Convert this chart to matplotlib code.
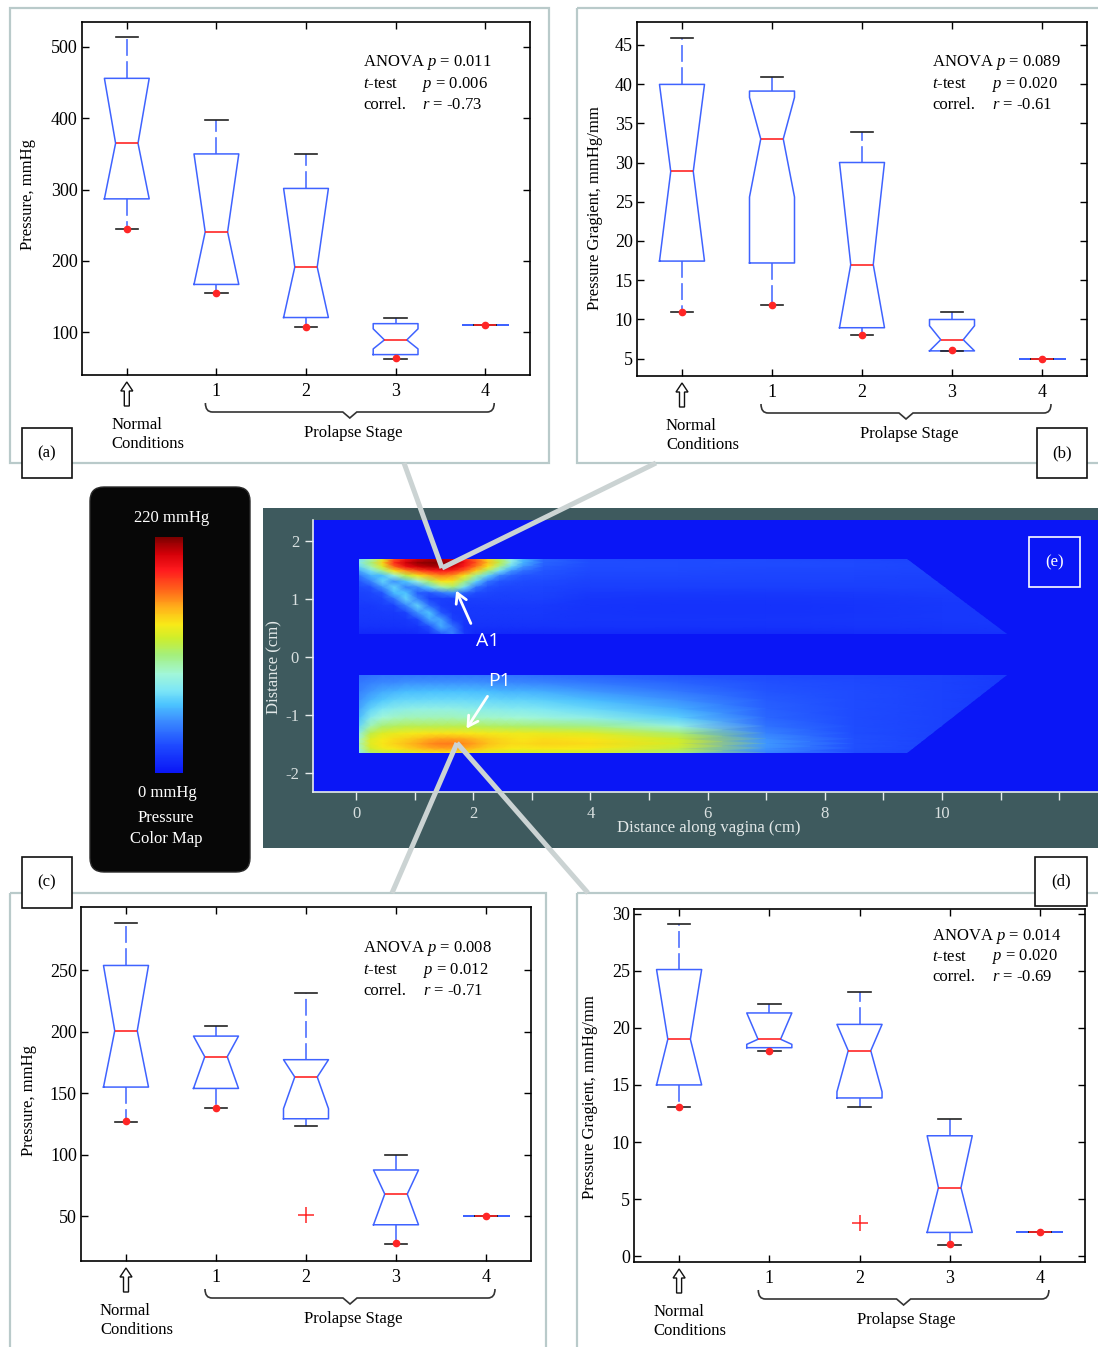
import matplotlib
matplotlib.use('Agg')
import matplotlib.pyplot as plt
import matplotlib.patches as patches
from matplotlib.path import Path
from matplotlib.colors import LinearSegmentedColormap, Normalize
from matplotlib.cm import ScalarMappable
import numpy as np

W, H = 1098, 1347
plt.rcParams['font.family'] = ['Liberation Serif', 'DejaVu Serif']
plt.rcParams['mathtext.fontset'] = 'custom'
plt.rcParams['mathtext.it'] = 'Liberation Serif:italic'
plt.rcParams['mathtext.rm'] = 'Liberation Serif'

# ---------------- data ----------------
groups = ['', '1', '2', '3', '4']
test_names = ['ANOVA', '$t$-test', 'correl.']

# (a) peak pressure, mmHg
a_whislo = [245, 155, 108, 62.5, 110.3]
a_q1 = [287, 167, 120.6, 68.6, 110.3]
a_med = [365, 240.7, 191.4, 89.2, 110.3]
a_q3 = [456, 350, 301.6, 112, 110.3]
a_whishi = [513.6, 397.8, 350, 120, 110.3]
a_cilo = [287, 167, 120.6, 76.6, 110.3]
a_cihi = [456, 350, 301.6, 104.7, 110.3]
a_dots = [245, 155, 108, 63.4, 110.3]
a_fliers = [[], [], [], [], []]
a_tests = ['0.011', '0.006', '-0.73']

# (b) pressure gradient, mmHg/mm
b_whislo = [10.94, 11.9, 8.06, 6.0, 5.0]
b_q1 = [17.44, 17.2, 8.95, 6.0, 5.0]
b_med = [28.86, 33.0, 17.0, 7.42, 5.0]
b_q3 = [39.95, 39.1, 30.0, 10.0, 5.0]
b_whishi = [45.85, 40.9, 33.9, 10.94, 5.0]
b_cilo = [17.44, 25.6, 8.95, 6.0, 5.0]
b_cihi = [39.95, 38.3, 30.0, 9.2, 5.0]
b_dots = [10.94, 11.9, 8.06, 6.06, 5.0]
b_fliers = [[], [], [], [], []]
b_tests = ['0.089', '0.020', '-0.61']

# (c) peak pressure, mmHg
c_whislo = [126.5, 137.7, 123.3, 27.5, 50.0]
c_q1 = [155.0, 153.9, 129.2, 42.9, 50.0]
c_med = [200.9, 179.7, 163.2, 67.9, 50.0]
c_q3 = [254.0, 196.5, 177.3, 87.5, 50.0]
c_whishi = [288.5, 204.7, 231.8, 99.4, 50.0]
c_cilo = [155.0, 153.9, 137.4, 42.9, 50.0]
c_cihi = [254.0, 196.5, 177.3, 87.5, 50.0]
c_dots = [127.0, 137.7, None, 28.0, 50.0]
c_fliers = [[], [], [51.1], [], []]
c_tests = ['0.008', '0.012', '-0.71']

# (d) pressure gradient, mmHg/mm
d_whislo = [13.07, 18.0, 13.07, 1.02, 2.09]
d_q1 = [15.0, 18.26, 13.86, 2.09, 2.09]
d_med = [19.0, 19.0, 18.0, 6.0, 2.09]
d_q3 = [25.1, 21.3, 20.3, 10.55, 2.09]
d_whishi = [29.07, 22.05, 23.1, 12.06, 2.09]
d_cilo = [15.0, 18.55, 14.4, 2.09, 2.09]
d_cihi = [25.1, 21.3, 20.3, 10.55, 2.09]
d_dots = [13.1, 18.0, None, 1.1, 2.1]
d_fliers = [[], [], [2.9], [], []]
d_tests = ['0.014', '0.020', '-0.69']

# (e) pressure map, mmHg (on a coarse grid)
map_x = [0.05, 0.25, 0.45, 0.65, 0.85, 1.05, 1.25, 1.45, 1.65, 1.85, 2.05,
         2.25, 2.45, 2.65, 2.85, 3.2, 4.0, 5.5, 7.0, 8.5, 10.0, 11.2]
ant_y = [1.68, 1.62, 1.55, 1.48, 1.40, 1.30, 1.20, 1.10, 1.00, 0.88, 0.76, 0.64, 0.52, 0.40]
ant_p = [
    [75, 100, 130, 175, 195, 205, 210, 210, 205, 190, 170, 145, 115, 85, 60, 35, 26, 25, 25, 24, 22, 18],
    [80, 110, 145, 185, 205, 215, 218, 218, 212, 195, 175, 150, 120, 85, 60, 35, 27, 26, 26, 25, 23, 18],
    [70, 100, 130, 170, 195, 205, 210, 210, 205, 188, 165, 140, 105, 70, 50, 32, 26, 26, 25, 25, 23, 18],
    [55, 75, 105, 140, 160, 175, 185, 190, 185, 170, 145, 110, 75, 50, 38, 30, 25, 25, 24, 24, 23, 18],
    [40, 60, 62, 90, 120, 140, 155, 165, 160, 140, 105, 70, 45, 35, 30, 28, 24, 24, 23, 23, 22, 18],
    [30, 45, 70, 50, 65, 90, 115, 140, 140, 110, 70, 40, 30, 28, 26, 25, 22, 22, 22, 22, 21, 18],
    [25, 28, 50, 70, 45, 50, 70, 100, 110, 75, 40, 28, 25, 24, 24, 23, 20, 20, 20, 20, 20, 18],
    [22, 24, 30, 62, 65, 32, 30, 40, 50, 35, 26, 24, 22, 22, 22, 22, 18, 17, 17, 18, 19, 18],
    [20, 22, 24, 40, 70, 45, 22, 20, 20, 20, 20, 20, 20, 20, 20, 20, 16, 15, 15, 16, 18, 18],
    [18, 18, 20, 22, 45, 70, 38, 20, 18, 18, 18, 18, 18, 18, 18, 18, 15, 14, 14, 15, 17, 18],
    [17, 17, 18, 18, 22, 50, 65, 30, 18, 17, 17, 17, 17, 17, 17, 17, 15, 14, 14, 15, 17, 18],
    [16, 16, 16, 16, 17, 24, 55, 55, 22, 16, 16, 16, 16, 16, 16, 16, 15, 15, 15, 16, 17, 18],
    [14, 14, 14, 14, 15, 16, 28, 58, 40, 15, 14, 14, 14, 14, 14, 14, 14, 14, 14, 15, 16, 17],
    [10, 10, 10, 10, 10, 12, 15, 32, 45, 18, 10, 10, 10, 10, 10, 10, 10, 10, 10, 12, 14, 15],
]
post_y = [-0.32, -0.45, -0.60, -0.75, -0.90, -1.05, -1.20, -1.32, -1.42, -1.50, -1.58, -1.66]
post_p = [
    [38, 40, 42, 42, 42, 42, 42, 42, 42, 42, 42, 41, 40, 40, 40, 38, 36, 30, 26, 24, 22, 18],
    [42, 45, 48, 48, 50, 50, 50, 50, 50, 50, 50, 49, 48, 48, 47, 46, 42, 35, 28, 25, 22, 18],
    [45, 52, 57, 60, 62, 62, 63, 63, 63, 63, 62, 62, 61, 60, 60, 58, 52, 42, 30, 26, 22, 18],
    [50, 60, 66, 70, 72, 72, 73, 73, 73, 73, 72, 72, 71, 70, 70, 68, 62, 50, 32, 26, 22, 18],
    [55, 70, 78, 82, 85, 86, 86, 86, 86, 85, 84, 83, 82, 80, 80, 78, 72, 58, 34, 26, 22, 18],
    [62, 82, 92, 96, 98, 98, 98, 98, 98, 97, 96, 95, 94, 93, 92, 90, 85, 68, 36, 26, 22, 18],
    [72, 100, 112, 116, 118, 118, 118, 118, 118, 118, 117, 116, 115, 114, 113, 112, 108, 88, 40, 27, 22, 18],
    [85, 120, 130, 134, 136, 138, 140, 140, 140, 139, 138, 137, 136, 135, 135, 134, 130, 112, 45, 27, 22, 18],
    [95, 130, 138, 142, 146, 150, 155, 158, 158, 156, 152, 147, 144, 141, 140, 142, 140, 125, 50, 28, 22, 18],
    [98, 132, 140, 145, 150, 156, 162, 165, 165, 162, 157, 150, 146, 143, 142, 145, 142, 128, 52, 28, 22, 18],
    [95, 128, 136, 140, 145, 150, 155, 158, 158, 155, 150, 144, 141, 139, 138, 140, 138, 122, 50, 28, 22, 18],
    [80, 112, 120, 124, 128, 132, 136, 138, 138, 136, 134, 130, 128, 126, 125, 126, 124, 110, 45, 26, 22, 18],
]
ant_outline = [(0.05, 1.68), (9.4, 1.68), (11.1, 0.40), (0.05, 0.40)]
post_outline = [(0.05, -0.31), (11.1, -0.31), (9.4, -1.66), (0.05, -1.66)]
p_max = 220

# ---------------- style ----------------
BLUE = '#3f63ff'
RED = '#ff2626'
FRAME = '#b9caca'
GREYLINE = '#cbd3d3'
cm_pos = [0.0, 0.12, 0.22, 0.29, 0.35, 0.42, 0.50, 0.57, 0.63, 0.70, 0.77, 0.86, 0.93, 1.0]
cm_col = ['#0a16f6', '#1f4cff', '#3b8cff', '#4cc4ff', '#7de6f6', '#a2f7d8', '#a4ef7c',
          '#cdee2c', '#f8ea18', '#ffb21a', '#ff6a1a', '#ff1a1e', '#d40008', '#7c0000']
cmap = LinearSegmentedColormap.from_list('pmap', list(zip(cm_pos, cm_col)))
norm = Normalize(0, p_max)

fig = plt.figure(figsize=(W / 100, H / 100), dpi=100)


def px_rect(l, t, r, b):
    return [l / W, 1 - b / H, (r - l) / W, (b - t) / H]


# background layer (pixel coordinates, y down)
bg = fig.add_axes([0, 0, 1, 1], zorder=-1)
bg.set_xlim(0, W); bg.set_ylim(H, 0); bg.axis('off')
bg.add_patch(patches.FancyBboxPatch((90, 487), 160, 385, boxstyle='round,pad=0,rounding_size=14',
                                    fc='#070707', ec='#2a2a2a', lw=1))
bg.add_patch(patches.Rectangle((263, 508), 840, 340, fc='#3e5a5e', ec='none'))

# overlay layer (pixel coordinates, y down)
ov = fig.add_axes([0, 0, 1, 1], zorder=10)
ov.set_xlim(0, W); ov.set_ylim(H, 0); ov.axis('off')


def brace(x0, x1, ytop, yline, ytip):
    xm = (x0 + x1) / 2
    verts = [(x0, ytop), (x0, yline), (x0 + 7, yline), (xm - 7, yline), (xm, ytip),
             (xm + 7, yline), (x1 - 7, yline), (x1, yline), (x1, ytop)]
    codes = [Path.MOVETO, Path.CURVE3, Path.CURVE3, Path.LINETO, Path.LINETO,
             Path.LINETO, Path.LINETO, Path.CURVE3, Path.CURVE3]
    ov.add_patch(patches.PathPatch(Path(verts, codes), fill=False, ec='#333333', lw=1.2))


def panel(rect, frame, lbox, lab, whislo, q1, med, q3, whishi, cilo, cihi, dots, fliers,
          ylim, yticks, ylabel, ylab_xy, txt_x, txt_y, tests, normal_dx):
    l, t, r, b = rect
    ax = fig.add_axes(px_rect(*rect))
    stats = []
    for i in range(5):
        stats.append(dict(whislo=whislo[i], q1=q1[i], med=med[i], q3=q3[i], whishi=whishi[i],
                          cilo=cilo[i], cihi=cihi[i], fliers=fliers[i]))
    ax.bxp(stats, positions=range(5), widths=0.5, shownotches=True, showfliers=True,
           manage_ticks=False,
           boxprops=dict(color=BLUE, lw=1.1),
           whiskerprops=dict(color=BLUE, lw=1.1, linestyle=(0, (11, 3.5))),
           capprops=dict(color='#222222', lw=1.2),
           medianprops=dict(color=RED, lw=1.2),
           flierprops=dict(marker='+', markeredgecolor=RED, markersize=11,
                           markeredgewidth=1.1, linestyle='none'))
    xs = [i for i, v in enumerate(dots) if v is not None]
    ys = [v for v in dots if v is not None]
    ax.plot(xs, ys, 'o', color=RED, ms=4.5, zorder=5)
    ax.set_xlim(-0.5, 4.5)
    ax.set_ylim(*ylim)
    ax.set_xticks(range(5))
    ax.set_xticklabels(groups)
    ax.set_yticks(yticks)
    ax.tick_params(direction='in', top=True, right=True, length=5, width=1, labelsize=13)
    ax.tick_params(axis='x', pad=6)
    ax.tick_params(axis='y', pad=3)
    for s in ax.spines.values():
        s.set_linewidth(1.2)

    # frame and label box
    fl, ft, fr, fb = frame
    ov.add_patch(patches.Rectangle((fl, ft), fr - fl, fb - ft, fill=False, ec=FRAME, lw=1.6))
    bl, bt, br, bb = lbox
    ov.add_patch(patches.Rectangle((bl, bt), br - bl, bb - bt, fc='white', ec='#111111', lw=1.2))
    ov.text((bl + br) / 2, (bt + bb) / 2, lab, ha='center', va='center', fontsize=12)

    ov.text(ylab_xy[0], ylab_xy[1], ylabel, rotation=90, ha='center', va='center', fontsize=12)

    # statistics
    ov.text(txt_x[0], txt_y[0], f'{test_names[0]} $p$ = {tests[0]}', ha='left', va='center', fontsize=12)
    ov.text(txt_x[0], txt_y[1], test_names[1], ha='left', va='center', fontsize=12)
    ov.text(txt_x[1], txt_y[1], f'$p$ = {tests[1]}', ha='left', va='center', fontsize=12)
    ov.text(txt_x[0], txt_y[2], test_names[2], ha='left', va='center', fontsize=12)
    ov.text(txt_x[1], txt_y[2], f'$r$ = {tests[2]}', ha='left', va='center', fontsize=12)

    # x-axis annotations
    xp = [l + (i + 0.5) / 5 * (r - l) for i in range(5)]
    ov.add_patch(patches.FancyArrow(xp[0], b + 31, 0, -24, width=5, head_width=12, head_length=9,
                                    length_includes_head=True, fc='white', ec='#111111', lw=1.0))
    ov.text(xp[0] + normal_dx, b + 50, 'Normal', ha='left', va='center', fontsize=12)
    ov.text(xp[0] + normal_dx, b + 69, 'Conditions', ha='left', va='center', fontsize=12)
    brace(xp[1] - 11, xp[4] + 9, b + 28, b + 37, b + 43)
    ov.text((xp[1] + xp[4]) / 2 + 2, b + 58, 'Prolapse Stage', ha='center', va='center', fontsize=12)
    return ax


panel((82, 22, 530, 375), (10, 8, 549, 463), (22, 428, 72, 478), '(a)',
      a_whislo, a_q1, a_med, a_q3, a_whishi, a_cilo, a_cihi, a_dots, a_fliers,
      (40, 535), [100, 200, 300, 400, 500], 'Pressure, mmHg', (28, 195),
      (363, 422), (62, 84, 105), a_tests, -15)

panel((637, 22, 1087, 376), (577, 8, 1115, 463), (1037, 428, 1087, 478), '(b)',
      b_whislo, b_q1, b_med, b_q3, b_whishi, b_cilo, b_cihi, b_dots, b_fliers,
      (2.8, 47.9), [5, 10, 15, 20, 25, 30, 35, 40, 45], 'Pressure Gragient, mmHg/mm', (595, 208),
      (932, 992), (63, 84, 105), b_tests, -16)

panel((81, 907, 531, 1261), (10, 893, 546, 1365), (22, 857, 72, 908), '(c)',
      c_whislo, c_q1, c_med, c_q3, c_whishi, c_cilo, c_cihi, c_dots, c_fliers,
      (13.4, 301.6), [50, 100, 150, 200, 250], 'Pressure, mmHg', (29, 1100),
      (363, 423), (949, 970, 991), c_tests, -26)

panel((634, 909, 1085, 1262), (577, 893, 1115, 1365), (1035, 857, 1087, 906), '(d)',
      d_whislo, d_q1, d_med, d_q3, d_whishi, d_cilo, d_cihi, d_dots, d_fliers,
      (-0.5, 30.4), [0, 5, 10, 15, 20, 25, 30], 'Pressure Gragient, mmHg/mm', (590, 1097),
      (932, 992), (937, 957, 977), d_tests, -26)

# ---------------- (e) pressure map ----------------
axh = fig.add_axes(px_rect(313, 520, 1098, 792))
axh.set_facecolor(cmap(0.0))
for ys, zs, outline in [(ant_y, ant_p, ant_outline), (post_y, post_p, post_outline)]:
    X, Y = np.meshgrid(map_x, ys)
    qm = axh.pcolormesh(X, Y, np.array(zs, dtype=float), cmap=cmap, norm=norm, shading='gouraud')
    clip = patches.Polygon(outline, closed=True, transform=axh.transData, fc='none', ec='none')
    qm.set_clip_path(clip)
axh.set_xlim(-0.734, 12.66)
axh.set_ylim(-2.33, 2.36)
for s in ['top', 'right']:
    axh.spines[s].set_visible(False)
for s in ['left', 'bottom']:
    axh.spines[s].set_color('#e6ecec')
    axh.spines[s].set_linewidth(1.2)
axh.set_xticks(range(13))
axh.set_xticklabels(['0', '', '2', '', '4', '', '6', '', '8', '', '10', '', ''])
axh.set_yticks([-2, -1, 0, 1, 2])
axh.set_yticklabels(['-2', '-1', '0', '1', '2'])
axh.tick_params(direction='out', length=6, width=1, color='#e6ecec', labelcolor='#d9e0e0',
                labelsize=12, pad=4)
ov.text(709, 828, 'Distance along vagina (cm)', ha='center', va='center', fontsize=12, color='#e2e8e8')
ov.text(274, 667, 'Distance (cm)', rotation=90, ha='center', va='center', fontsize=12, color='#e2e8e8')
ov.add_patch(patches.Rectangle((1029, 537), 51, 50, fill=False, ec='white', lw=1.2))
ov.text(1054.5, 562, '(e)', ha='center', va='center', fontsize=12, color='white')

# color map legend
cax = fig.add_axes(px_rect(155, 537, 183, 773))
cb = fig.colorbar(ScalarMappable(norm=norm, cmap=cmap), cax=cax)
cb.set_ticks([])
cb.outline.set_visible(False)
ov.text(172, 518, f'{p_max} mmHg', ha='center', va='center', fontsize=12, color='white')
ov.text(167, 793, '0 mmHg', ha='center', va='center', fontsize=12, color='white')
ov.text(166, 818, 'Pressure', ha='center', va='center', fontsize=12, color='white')
ov.text(166, 839, 'Color Map', ha='center', va='center', fontsize=12, color='white')

# connecting lines from the two peaks to the panels
for (x0, y0), (x1, y1) in [((404, 463), (442, 568)), ((656, 463), (442, 568)),
                           ((457, 743), (392, 893)), ((457, 743), (588, 893))]:
    ov.plot([x0, x1], [y0, y1], color=GREYLINE, lw=3.6, solid_capstyle='butt')

# A1 / P1 markers
arrow = dict(arrowstyle='->,head_length=0.7,head_width=0.4', color='white', lw=2)
ov.annotate('', xy=(455, 588), xytext=(472, 626), arrowprops=arrow)
ov.text(488, 641, 'A1', ha='center', va='center', fontsize=14, color='white', family='Open Sans')
ov.annotate('', xy=(465, 731), xytext=(489, 694), arrowprops=arrow)
ov.text(500, 681, 'P1', ha='center', va='center', fontsize=14, color='white', family='Open Sans')

fig.savefig('out.png', dpi=100)
